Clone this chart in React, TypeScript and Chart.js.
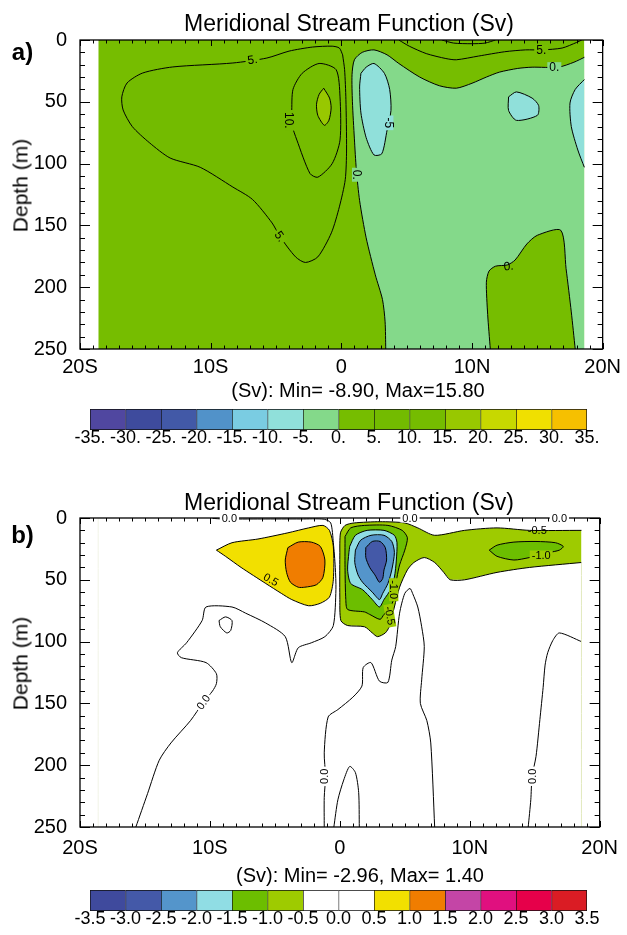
import React, { useEffect, useRef } from 'react';
import { Chart, registerables } from 'chart.js';

Chart.register(...registerables);

const FONT = '"Liberation Sans", Arial, Helvetica, sans-serif';
type Pt = [number, number];

// ---------- axes ----------
const LAT_MIN = -20;
const LAT_MAX = 20;
const DEPTH_MIN = 0;
const DEPTH_MAX = 250;
const latTickValues = [-20, -10, 0, 10, 20];
const latTickLabels = ['20S', '10S', '0', '10N', '20N'];
const latMinorStep = 1;
const depthTickValues = [0, 50, 100, 150, 200, 250];
const depthTickLabels = ['0', '50', '100', '150', '200', '250'];
const depthMinorStep = 10;
const dataLatWest = -18.6;
const dataLatEast = 18.6;

// ---------- colour bars ----------
const levelsA = [-35, -30, -25, -20, -15, -10, -5, 0, 5, 10, 15, 20, 25, 30, 35];
const levelLabelsA = ['-35.', '-30.', '-25.', '-20.', '-15.', '-10.', '-5.', '0.', '5.', '10.', '15.', '20.', '25.', '30.', '35.'];
const colorsA = ['#5047A0', '#3E4B9D', '#4259A7', '#5192C9', '#7ACCE2', '#90E0DA', '#84D98A', '#76BD00', '#73BB00', '#75BC00', '#98C800', '#C7D800', '#F0E000', '#F6C000'];
const levelsB = [-3.5, -3.0, -2.5, -2.0, -1.5, -1.0, -0.5, 0.0, 0.5, 1.0, 1.5, 2.0, 2.5, 3.0, 3.5];
const levelLabelsB = ['-3.5', '-3.0', '-2.5', '-2.0', '-1.5', '-1.0', '-0.5', '0.0', '0.5', '1.0', '1.5', '2.0', '2.5', '3.0', '3.5'];
const colorsB = ['#3F4A9D', '#4459A8', '#5495CB', '#90DDE4', '#6CBE00', '#9ECB00', '#FFFFFF', '#FFFFFF', '#F2E000', '#F07D00', '#C445A6', '#E0107F', '#E6004A', '#DA1C24'];

// ---------- panel a contours (lat, depth) ----------
const aBackground: Pt[] = [[-18.6, 0], [18.6, 0], [18.6, 250], [-18.6, 250]];
const aZeroMain: Pt[] = [[3.4, 250], [3.35, 228], [3.15, 210], [2.6, 190], [1.9, 160], [1.4, 130], [1.15, 105], [1.0, 80], [0.85, 50], [0.82, 28], [1.0, 16], [1.6, 10], [2.5, 8], [3.5, 12], [4.4, 19], [6.0, 30], [7.5, 37], [8.8, 39], [10.0, 35], [11.1, 30], [12.1, 26], [13.5, 23], [14.6, 22], [16.6, 22], [17.8, 18], [18.6, 14]];
const aZeroLobe: Pt[] = [[11.4, 250], [11.2, 222], [11.1, 196], [11.3, 187], [11.8, 183], [12.7, 182], [13.3, 178], [14.2, 165], [15.0, 158], [16.8, 154], [17.2, 185], [17.6, 220], [17.9, 250]];
const aMinusFiveMid: Pt[] = [[1.5, 27], [1.9, 22], [2.5, 19], [3.3, 27], [3.7, 40], [3.8, 57], [3.5, 73], [3.1, 92], [2.5, 93], [1.9, 79], [1.5, 59], [1.4, 38]];
const aMinusFiveRight: Pt[] = [[12.8, 46], [13.4, 42], [14.6, 47], [15.1, 53], [15.0, 61], [13.4, 65], [12.8, 57]];
const aMinusFiveEdge: Pt[] = [[18.6, 32], [17.9, 40], [17.5, 51], [17.6, 70], [18.1, 89], [18.6, 103]];
const aFiveLoop: Pt[] = [[0.1, 12], [-0.15, 6.5], [-0.7, 5], [-2.2, 5.7], [-4.0, 9], [-5.7, 14.6], [-8.3, 18.6], [-12.9, 21.8], [-15.2, 26.7], [-16.4, 34.8], [-16.8, 46], [-16.7, 56.6], [-16.0, 70], [-14.7, 83], [-13.1, 95.5], [-10.8, 103], [-8.3, 119], [-6.8, 129], [-5.3, 148], [-4.7, 159], [-3.5, 175.5], [-2.75, 180], [-1.8, 175.5], [-0.76, 156], [-0.15, 135], [0.3, 113], [0.4, 89], [0.35, 48], [0.25, 24]];
const aFiveTop: Pt[] = [[4.4, 0], [5.2, 5], [6.5, 11], [8.0, 15], [8.8, 16], [10.5, 13], [12.5, 9.5], [14.1, 8], [15.4, 8], [16.9, 6.5], [18.0, 2], [18.4, 0]];
const aTenLoop: Pt[] = [[-3.8, 59], [-3.7, 40], [-3.0, 27], [-1.7, 19], [-0.4, 24], [-0.1, 46], [-0.1, 81], [-0.7, 100], [-1.8, 111], [-2.4, 108], [-3.4, 81], [-3.8, 68]];
const aFifteenCore: Pt[] = [[-1.35, 39], [-0.9, 47], [-0.78, 55], [-0.95, 65], [-1.3, 69], [-1.8, 61], [-1.9, 52], [-1.7, 44]];
const aTopTiny: Pt[] = [[7.7, 0], [8.6, 2.5], [10.0, 3], [11.0, 2.5], [11.8, 0]];

// ---------- panel b contours (lat, depth) ----------
const bYellow: Pt[] = [[-9.5, 26], [-8.3, 20], [-6.3, 17], [-4.0, 12], [-2.4, 8], [-1.3, 6], [-0.8, 10], [-0.5, 23], [-0.5, 50], [-0.8, 64], [-1.5, 69], [-2.4, 71], [-3.7, 66], [-4.5, 61], [-5.7, 53], [-7.6, 40], [-8.8, 31]];
const bOrange: Pt[] = [[-4.0, 24], [-3.2, 19.5], [-2.2, 19.5], [-1.5, 23], [-1.15, 34], [-1.3, 48], [-1.8, 54], [-2.7, 56], [-3.2, 56], [-3.8, 52], [-4.1, 44], [-4.2, 34]];
const bMinusHalf: Pt[] = [[18.6, 10], [14.6, 10], [12.1, 8], [9.6, 10], [7.3, 14], [6.0, 8], [5.0, 4], [3.1, 3], [1.1, 4], [0.4, 6], [0.05, 12], [0, 30], [0, 64], [0.08, 83], [0.6, 87], [1.9, 88], [2.5, 93], [2.9, 96], [3.5, 93], [3.8, 88], [4.2, 72], [4.6, 56], [5.2, 42], [5.7, 36], [6.5, 32], [7.3, 36], [8.0, 44], [8.5, 50], [9.6, 50], [12.1, 44], [14.6, 40], [18.6, 36]];
const bMinusOne: Pt[] = [[0.4, 15], [0.84, 8], [1.9, 6], [3.7, 6], [4.8, 10], [5.2, 16], [5.0, 26], [4.6, 38], [4.4, 48], [4.2, 64], [3.8, 74], [3.4, 78], [3.1, 82], [2.3, 78], [1.9, 76], [0.6, 74], [0.46, 66], [0.4, 40]];
const bMinusOneHalf: Pt[] = [[0.76, 23], [1.2, 14], [2.1, 10], [3.4, 10], [4.2, 14], [4.4, 20], [4.35, 34], [4.2, 48], [3.9, 58], [3.4, 66], [3.05, 72], [2.5, 66], [1.75, 58], [0.84, 53], [0.6, 42], [0.7, 28]];
const bMinusTwo: Pt[] = [[1.2, 26], [1.6, 18], [2.4, 14], [3.4, 14], [4.0, 19], [4.2, 28], [4.0, 42], [3.7, 53], [3.3, 61], [3.05, 66], [2.5, 60], [1.75, 52], [1.4, 46], [1.15, 36]];
const bMinusTwoHalf: Pt[] = [[2.0, 24], [2.5, 19], [3.1, 19], [3.5, 24], [3.6, 34], [3.4, 42], [3.3, 49], [3.05, 52], [2.7, 46], [2.3, 40], [2.0, 32]];
const bMinusOneRight: Pt[] = [[11.5, 26], [12.1, 22], [13.4, 19.5], [15.1, 19], [16.6, 20], [17.2, 23], [16.9, 26], [16.1, 28], [15.5, 30], [14.6, 32], [13.4, 34], [12.1, 31]];
const bZeroMain: Pt[] = [[-9.8, 0.3], [-9.0, 0.8], [-6.0, 0.8], [-3.0, 0.8], [-1.2, 1], [-0.7, 4], [-0.5, 20], [-0.35, 40], [-0.3, 58], [-0.5, 87], [-1.15, 96], [-2.2, 101], [-3.2, 105], [-3.7, 117], [-4.2, 96], [-5.7, 85], [-7.25, 77], [-8.3, 72], [-10.3, 72], [-10.6, 83], [-11.8, 101], [-12.5, 109], [-12.2, 113], [-10.3, 117], [-9.5, 126], [-9.5, 134], [-9.8, 140], [-10.5, 149], [-11.5, 164], [-13.0, 182], [-13.9, 196], [-14.8, 223], [-15.7, 250]];
const bZeroLoop: Pt[] = [[-9.3, 83], [-8.8, 80], [-8.3, 83], [-8.4, 91], [-8.7, 93], [-9.2, 88]];
const bZeroHump: Pt[] = [[-1.2, 250], [-1.2, 226], [-1.1, 209], [-1.2, 190], [-0.9, 161], [-0.15, 155], [1.0, 145], [1.7, 136], [1.8, 121], [2.4, 117], [3.05, 132], [3.7, 133], [4.0, 115], [4.3, 104], [4.6, 77], [5.0, 61], [5.4, 57], [5.6, 61], [6.0, 72], [6.3, 88], [6.5, 104], [6.3, 131], [6.2, 150], [6.7, 164], [7.0, 182], [7.3, 250]];
const bZeroBump: Pt[] = [[-0.46, 250], [-0.15, 228], [0.3, 212], [0.76, 201], [1.2, 206], [1.45, 222], [1.5, 250]];
const bZeroRight: Pt[] = [[18.6, 100], [16.9, 93], [16.4, 99], [16.0, 109], [15.8, 119], [15.65, 137], [15.4, 163], [15.1, 193], [14.8, 209], [14.7, 228], [14.5, 250]];

// masks outside the data domain
const maskWest: Pt[] = [[-20, 0], [dataLatWest, 0], [dataLatWest, 250], [-20, 250]];
const maskEast: Pt[] = [[dataLatEast, 0], [20, 0], [20, 250], [dataLatEast, 250]];

type Region = { pts: Pt[]; color: string; tension?: number };
type Contour = { pts: Pt[]; closed: boolean; color?: string };
type CLabel = { lat: number; depth: number; text: string; angle: number; bg: string };

const panelARegions: Region[] = [
  { pts: aBackground, color: colorsA[7], tension: 0 },
  { pts: [...aZeroMain, [18.6, 250]], color: colorsA[6] },
  { pts: aZeroLobe, color: colorsA[7] },
  { pts: aMinusFiveMid, color: colorsA[5] },
  { pts: aMinusFiveRight, color: colorsA[5] },
  { pts: aMinusFiveEdge, color: colorsA[5] },
  { pts: aFiveLoop, color: colorsA[8] },
  { pts: aFiveTop, color: colorsA[8] },
  { pts: aTenLoop, color: colorsA[9] },
  { pts: aFifteenCore, color: colorsA[10] },
  { pts: maskWest, color: '#FFFFFF', tension: 0 },
  { pts: maskEast, color: '#FFFFFF', tension: 0 },
];
const panelAContours: Contour[] = [
  { pts: aZeroMain, closed: false },
  { pts: aZeroLobe, closed: false },
  { pts: aMinusFiveMid, closed: true },
  { pts: aMinusFiveRight, closed: true },
  { pts: aMinusFiveEdge, closed: false },
  { pts: aFiveLoop, closed: true },
  { pts: aFiveTop, closed: false },
  { pts: aTenLoop, closed: true },
  { pts: aFifteenCore, closed: true },
  { pts: aTopTiny, closed: false },
];
const panelALabels: CLabel[] = [
  { lat: -6.8, depth: 16, text: '5.', angle: -8, bg: colorsA[7] },
  { lat: -4.0, depth: 65, text: '10.', angle: 90, bg: colorsA[8] },
  { lat: -4.7, depth: 159, text: '5.', angle: 55, bg: colorsA[7] },
  { lat: 3.6, depth: 67, text: '-5', angle: 90, bg: colorsA[5] },
  { lat: 1.2, depth: 109, text: '0.', angle: 90, bg: colorsA[6] },
  { lat: 15.3, depth: 8, text: '5.', angle: 0, bg: colorsA[7] },
  { lat: 16.3, depth: 22, text: '0.', angle: 0, bg: colorsA[6] },
  { lat: 12.8, depth: 183, text: '0.', angle: -5, bg: 'transparent' },
];

const panelBRegions: Region[] = [
  { pts: bYellow, color: colorsB[8] },
  { pts: bOrange, color: colorsB[9] },
  { pts: bMinusHalf, color: colorsB[5] },
  { pts: bMinusOne, color: colorsB[4] },
  { pts: bMinusOneHalf, color: colorsB[3] },
  { pts: bMinusTwo, color: colorsB[2] },
  { pts: bMinusTwoHalf, color: colorsB[1] },
  { pts: bMinusOneRight, color: colorsB[4] },
  { pts: maskWest, color: '#FFFFFF', tension: 0 },
  { pts: maskEast, color: '#FFFFFF', tension: 0 },
];
const panelBContours: Contour[] = [
  { pts: bYellow, closed: true },
  { pts: bOrange, closed: true },
  { pts: bMinusHalf, closed: false },
  { pts: bMinusOne, closed: true },
  { pts: bMinusOneHalf, closed: true },
  { pts: bMinusTwo, closed: true },
  { pts: bMinusTwoHalf, closed: true },
  { pts: bMinusOneRight, closed: true },
  { pts: bZeroMain, closed: false },
  { pts: bZeroLoop, closed: true },
  { pts: bZeroHump, closed: false },
  { pts: bZeroBump, closed: false },
  { pts: bZeroRight, closed: false },
  { pts: [[dataLatEast, 36], [dataLatEast, 250]], closed: false, color: '#E2EABF' },
  { pts: [[dataLatWest, 0], [dataLatWest, 250]], closed: false, color: '#F1F3E6' },
];
const panelBLabels: CLabel[] = [
  { lat: -8.5, depth: 0, text: '0.0', angle: 0, bg: '#FFFFFF' },
  { lat: 5.4, depth: 0, text: '0.0', angle: 0, bg: '#FFFFFF' },
  { lat: 16.9, depth: 0, text: '0.0', angle: 0, bg: '#FFFFFF' },
  { lat: -5.3, depth: 50, text: '0.5', angle: 30, bg: colorsB[8] },
  { lat: 15.2, depth: 10, text: '-0.5', angle: 0, bg: 'transparent' },
  { lat: 15.5, depth: 30, text: '-1.0', angle: 0, bg: colorsB[5] },
  { lat: 4.15, depth: 58, text: '-1.0', angle: 90, bg: colorsB[5] },
  { lat: 3.85, depth: 79, text: '-0.5', angle: 80, bg: colorsB[5] },
  { lat: -10.5, depth: 149, text: '0.0', angle: -55, bg: '#FFFFFF' },
  { lat: -1.15, depth: 209, text: '0.0', angle: -90, bg: '#FFFFFF' },
  { lat: 14.8, depth: 209, text: '0.0', angle: -90, bg: '#FFFFFF' },
];

// ---------- helpers ----------
function densify(pts: Pt[], closed: boolean): Pt[] {
  const out: Pt[] = [];
  const n = pts.length;
  const segs = closed ? n : n - 1;
  for (let i = 0; i < n; i++) {
    out.push(pts[i]);
    if (i < segs) {
      const a = pts[i];
      const b = pts[(i + 1) % n];
      if (a[0] === b[0] || a[1] === b[1]) {
        out.push([a[0] + (b[0] - a[0]) * 0.02, a[1] + (b[1] - a[1]) * 0.02]);
        out.push([a[0] + (b[0] - a[0]) * 0.98, a[1] + (b[1] - a[1]) * 0.98]);
      }
    }
  }
  if (closed) out.push(pts[0]);
  return out;
}
const toXY = (pts: Pt[]) => pts.map(([x, y]) => ({ x, y }));

function makeOverlayPlugin(labels: CLabel[], labelSize: number) {
  return {
    id: 'overlay',
    afterDraw(chart: any) {
      const { ctx, chartArea: a, scales } = chart;
      const x = scales.x;
      const y = scales.y;
      ctx.save();
      ctx.strokeStyle = '#000';
      ctx.lineWidth = 1;
      ctx.beginPath();
      for (const t of x.ticks) {
        const px = Math.round(x.getPixelForValue(t.value)) + 0.5;
        const len = latTickValues.includes(t.value) ? 6 : 3.5;
        ctx.moveTo(px, a.bottom);
        ctx.lineTo(px, a.bottom - len);
        ctx.moveTo(px, a.top);
        ctx.lineTo(px, a.top + len);
      }
      for (const t of y.ticks) {
        const py = Math.round(y.getPixelForValue(t.value)) + 0.5;
        const len = depthTickValues.includes(t.value) ? 10 : 5;
        ctx.moveTo(a.left, py);
        ctx.lineTo(a.left + len, py);
        ctx.moveTo(a.right, py);
        ctx.lineTo(a.right - len, py);
      }
      ctx.stroke();
      ctx.lineWidth = 1.3;
      ctx.strokeRect(a.left, a.top, a.right - a.left, a.bottom - a.top);
      ctx.font = `${labelSize}px ${FONT}`;
      ctx.textAlign = 'center';
      ctx.textBaseline = 'middle';
      for (const L of labels) {
        const px = x.getPixelForValue(L.lat);
        const py = y.getPixelForValue(L.depth);
        ctx.save();
        ctx.translate(px, py);
        ctx.rotate((L.angle * Math.PI) / 180);
        const w = ctx.measureText(L.text).width;
        if (L.bg !== 'transparent') {
          ctx.fillStyle = L.bg;
          ctx.fillRect(-w / 2 - 2, -labelSize * 0.42, w + 4, labelSize * 0.84);
        }
        ctx.fillStyle = '#000';
        ctx.fillText(L.text, 0, 0.5);
        ctx.restore();
      }
      ctx.restore();
    },
  };
}

function ContourPanel(props: { top: number; regions: Region[]; contours: Contour[]; labels: CLabel[]; labelSize: number; xLabelPad: number }) {
  const ref = useRef<HTMLCanvasElement>(null);
  useEffect(() => {
    const { regions, contours, labels, labelSize, xLabelPad } = props;
    const datasets: any[] = [];
    for (const r of regions) {
      datasets.push({
        data: toXY(densify(r.pts, true)),
        fill: 'shape',
        backgroundColor: r.color,
        borderColor: 'rgba(0,0,0,0)',
        borderWidth: 0,
        pointRadius: 0,
        tension: r.tension ?? 0.25,
      });
    }
    for (const c of contours) {
      datasets.push({
        data: toXY(c.closed ? [...c.pts, c.pts[0]] : c.pts),
        fill: false,
        borderColor: c.color ?? '#000',
        borderWidth: 1,
        pointRadius: 0,
        tension: 0.25,
      });
    }
    datasets.forEach((d, i) => { d.order = datasets.length - i; });
    const chart = new Chart(ref.current as HTMLCanvasElement, {
      type: 'line',
      data: { datasets },
      options: {
        responsive: false,
        animation: false,
        devicePixelRatio: 1,
        events: [],
        layout: { padding: { left: 0, right: 23, top: 40, bottom: 0 } },
        plugins: { legend: { display: false }, tooltip: { enabled: false } },
        scales: {
          x: {
            type: 'linear',
            position: 'bottom',
            min: LAT_MIN,
            max: LAT_MAX,
            afterFit: (s: any) => { s.height = 31; },
            grid: { display: false, drawTicks: false },
            border: { display: false },
            ticks: {
              stepSize: latMinorStep,
              autoSkip: false,
              maxRotation: 0,
              padding: xLabelPad,
              color: '#000',
              font: { family: FONT, size: 20 },
              callback: (v: any) => {
                const i = latTickValues.indexOf(Number(v));
                return i >= 0 ? latTickLabels[i] : '';
              },
            },
          },
          y: {
            type: 'linear',
            reverse: true,
            min: DEPTH_MIN,
            max: DEPTH_MAX,
            afterFit: (s: any) => { s.width = 80; },
            grid: { display: false, drawTicks: false },
            border: { display: false },
            ticks: {
              stepSize: depthMinorStep,
              autoSkip: false,
              padding: 13,
              color: '#000',
              font: { family: FONT, size: 20 },
              callback: (v: any) => {
                const i = depthTickValues.indexOf(Number(v));
                return i >= 0 ? depthTickLabels[i] : '';
              },
            },
          },
        },
      } as any,
      plugins: [makeOverlayPlugin(labels, labelSize)],
    });
    return () => chart.destroy();
  }, []);
  return <canvas ref={ref} width={627} height={380} style={{ position: 'absolute', left: 0, top: props.top, width: 627, height: 380 }} />;
}

function ColorBar(props: { top: number; height: number; levels: number[]; labels: string[]; colors: string[]; step: number }) {
  const ref = useRef<HTMLCanvasElement>(null);
  useEffect(() => {
    const { levels, labels, colors, step, height } = props;
    const n = colors.length;
    const chart = new Chart(ref.current as HTMLCanvasElement, {
      type: 'bar',
      data: {
        labels: [''],
        datasets: colors.map((c, i) => ({
          data: [[levels[i], levels[i + 1]]],
          backgroundColor: c,
          borderColor: '#111',
          borderWidth: { top: 1, bottom: 1, left: 1, right: i === n - 1 ? 1 : 0 },
          borderSkipped: false,
          grouped: false,
          barPercentage: 1,
          categoryPercentage: 1,
        })) as any,
      },
      options: {
        indexAxis: 'y',
        responsive: false,
        animation: false,
        devicePixelRatio: 1,
        events: [],
        layout: { padding: { left: 90, right: 40, top: 9, bottom: 0 } },
        plugins: { legend: { display: false }, tooltip: { enabled: false } },
        scales: {
          x: {
            type: 'linear',
            min: levels[0],
            max: levels[levels.length - 1],
            afterFit: (s: any) => { s.height = height - 9 - 21; },
            grid: { display: false, drawTicks: false },
            border: { display: false },
            ticks: {
              stepSize: step,
              autoSkip: false,
              maxRotation: 0,
              padding: -1,
              color: '#000',
              font: { family: FONT, size: 18, lineHeight: 1 },
              callback: (v: any) => {
                const i = levels.findIndex((l) => Math.abs(l - Number(v)) < 1e-6);
                return i >= 0 ? labels[i] : '';
              },
            },
          },
          y: { display: false },
        },
      } as any,
    });
    return () => chart.destroy();
  }, []);
  return <canvas ref={ref} width={627} height={props.height} style={{ position: 'absolute', left: 0, top: props.top, width: 627, height: props.height }} />;
}

function Txt(props: { cx: number; cy: number; size: number; bold?: boolean; rotate?: number; children: React.ReactNode }) {
  const { cx, cy, size, bold, rotate, children } = props;
  const w = 400;
  const h = Math.round(size * 1.2);
  return (
    <div
      style={{
        position: 'absolute',
        left: cx - w / 2,
        top: cy - h / 2,
        width: w,
        height: h,
        lineHeight: `${h}px`,
        fontSize: size,
        fontFamily: FONT,
        fontWeight: bold ? 'bold' : 'normal',
        textAlign: 'center',
        whiteSpace: 'nowrap',
        color: '#000',
        transform: rotate ? `rotate(${rotate}deg)` : undefined,
      }}
    >
      {children}
    </div>
  );
}

export default function App() {
  return (
    <div style={{ position: 'absolute', left: 0, top: 0, width: 627, height: 935, background: '#fff', overflow: 'hidden' }}>
      <ContourPanel top={0} regions={panelARegions} contours={panelAContours} labels={panelALabels} labelSize={12} xLabelPad={6} />
      <ColorBar top={400} height={60} levels={levelsA} labels={levelLabelsA} colors={colorsA} step={5} />
      <ContourPanel top={478} regions={panelBRegions} contours={panelBContours} labels={panelBLabels} labelSize={11} xLabelPad={9} />
      <ColorBar top={881} height={54} levels={levelsB} labels={levelLabelsB} colors={colorsB} step={0.5} />

      <Txt cx={349} cy={23} size={23}>Meridional Stream Function (Sv)</Txt>
      <Txt cx={22.5} cy={51} size={24} bold>a)</Txt>
      <Txt cx={20} cy={185} size={21} rotate={-90}>Depth (m)</Txt>
      <Txt cx={358} cy={390} size={20}>(Sv): Min= -8.90, Max=15.80</Txt>

      <Txt cx={349} cy={502} size={23}>Meridional Stream Function (Sv)</Txt>
      <Txt cx={22.5} cy={534} size={24} bold>b)</Txt>
      <Txt cx={20} cy={663} size={21} rotate={-90}>Depth (m)</Txt>
      <Txt cx={360} cy={875} size={20}>(Sv): Min= -2.96, Max= 1.40</Txt>
    </div>
  );
}
